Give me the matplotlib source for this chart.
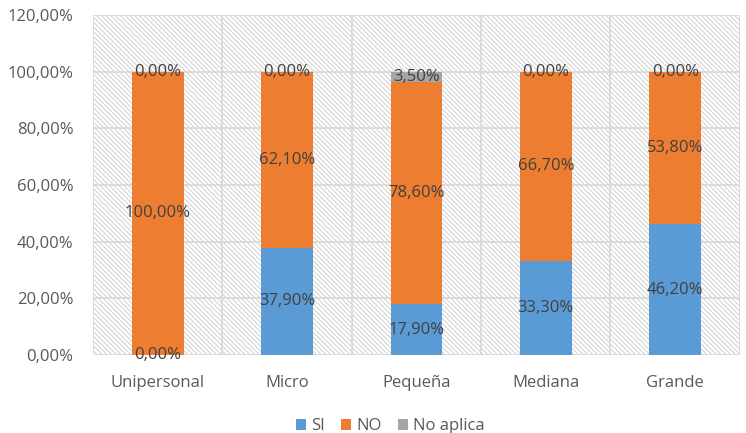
import matplotlib
matplotlib.use("Agg")
import matplotlib.pyplot as plt
from matplotlib.patches import Rectangle
from matplotlib.ticker import FuncFormatter, MultipleLocator
import numpy as np

categories = ["Unipersonal", "Micro", "Pequeña", "Mediana", "Grande"]
si = [0.0, 37.9, 17.9, 33.3, 46.2]
no = [100.0, 62.1, 78.6, 66.7, 53.8]
no_aplica = [0.0, 0.0, 3.5, 0.0, 0.0]
series_names = ["SI", "NO", "No aplica"]
colors = ["#5b9bd5", "#ed7d31", "#a5a5a5"]

plt.rcParams["font.family"] = ["Open Sans", "DejaVu Sans"]
plt.rcParams["hatch.linewidth"] = 0.7

fig = plt.figure(figsize=(7.46, 4.33), dpi=100)
ax = fig.add_axes([0.1247, 0.18, 0.867, 0.7854])

x = np.arange(len(categories))
ax.set_xlim(-0.5, len(categories) - 0.5)
ax.set_ylim(0, 120)

# hatched plot-area background
ax.add_patch(Rectangle((0, 0), 1, 1, transform=ax.transAxes, facecolor="white",
                       edgecolor="#cfcfcf", hatch="\\\\\\\\\\\\\\", linewidth=0, zorder=0))

# grid lines
for yv in range(0, 121, 20):
    ax.axhline(yv, color="#d9d9d9", linewidth=1.3, zorder=1)
for xv in np.arange(-0.5, len(categories), 1.0):
    ax.axvline(xv, color="#d9d9d9", linewidth=1.3, zorder=1)

bottom = np.zeros(len(categories))
width = 0.4
for vals, name, col in zip([si, no, no_aplica], series_names, colors):
    vals = np.array(vals)
    ax.bar(x, vals, width, bottom=bottom, color=col, label=name, zorder=2)
    for xi, b, v in zip(x, bottom, vals):
        ax.text(xi, b + v / 2, f"{v:.2f}%".replace(".", ","), ha="center", va="center",
                fontsize=12, color="#404040", zorder=3)
    bottom = bottom + vals

for s in ax.spines.values():
    s.set_visible(False)

ax.yaxis.set_major_locator(MultipleLocator(20))
ax.yaxis.set_major_formatter(FuncFormatter(lambda v, p: f"{v:.2f}%".replace(".", ",")))
ax.set_xticks(x)
ax.set_xticklabels(categories)
ax.tick_params(axis="both", length=0, labelsize=12, colors="#595959")
ax.tick_params(axis="x", pad=14)
ax.tick_params(axis="y", pad=14)

leg = ax.legend(loc="center", bbox_to_anchor=(0.46, -0.21), ncol=3, frameon=False,
                fontsize=12, handlelength=0.6, handleheight=0.6, handletextpad=0.3,
                columnspacing=1.0, labelcolor="#595959")

fig.savefig("out.png", dpi=100)
